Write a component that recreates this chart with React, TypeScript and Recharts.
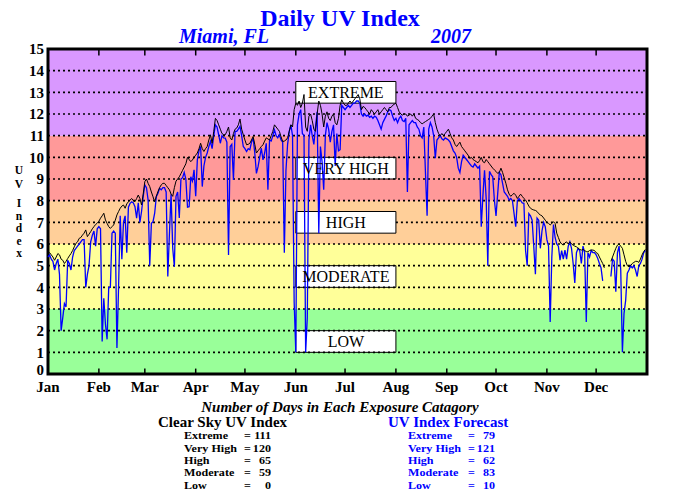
import React from "react";
import {
  ComposedChart,
  Line,
  XAxis,
  YAxis,
  ReferenceArea,
  ReferenceLine,
} from "recharts";

document.body.style.margin = "0";

const SERIF = "'Liberation Serif', 'DejaVu Serif', serif";

const MONTHS = ["Jan", "Feb", "Mar", "Apr", "May", "Jun", "Jul", "Aug", "Sep", "Oct", "Nov", "Dec"];
const MONTH_START = [0, 31, 59, 90, 120, 151, 181, 212, 243, 273, 304, 334];
const Y_TICKS = [0, 1, 2, 3, 4, 5, 6, 7, 8, 9, 10, 11, 12, 13, 14, 15];
const GRID_Y = [1, 2, 3, 4, 5, 6, 7, 8, 9, 10, 11, 12, 13, 14];

// clear sky UV index, one value per day of 2007
const clearSky: (number | null)[] = [
  // Jan
  5.56, 5.6, 5.5, 5.4, 5.25, 5.4, 5.56, 5.5, 5.3, 5.25, 5.1, 5.2, 5.33, 5.45, 5.56, 5.7,
  5.87, 6.03, 6.1, 6.26, 6.3, 6.41, 6.5, 6.65, 6.34, 6.45, 6.57, 6.7, 6.8, 6.9, 6.96,
  // Feb
  7.05, 7.19, 7.3, 7.42, 7.11, 6.95, 6.8, 6.72, 6.8, 6.88, 7.1, 7.34, 7.5, 7.65, 7.75,
  7.8, 7.65, 7.85, 7.95, 8.03, 8.1, 8.0, 7.95, 8.1, 8.26, 8.1, 7.8, 8.3,
  // Mar
  8.88, 9.0, 8.8, 8.65, 8.4, 8.18, 7.95, 8.2, 8.42, 8.6, 8.73, 8.8, 8.8, 8.7, 8.6, 8.5,
  8.3, 8.2, 8.6, 8.9, 9.0, 9.1, 9.25, 9.4, 9.55, 9.7, 10.0, 9.9, 9.8, 9.88, 10.0,
  // Apr
  10.1, 10.2, 10.4, 10.65, 10.4, 10.27, 10.4, 10.5, 10.8, 11.04, 10.65, 11.2, 11.8, 11.7,
  11.5, 11.3, 11.1, 11.05, 11.04, 11.2, 11.4, 10.9, 10.8, 11.1, 11.3, 11.35, 11.5, 11.77,
  11.3, 11.04,
  // May
  10.8, 10.58, 10.6, 10.65, 10.8, 10.96, 10.6, 10.2, 10.3, 10.4, 10.5, 10.58, 10.75, 10.9,
  10.85, 10.8, 11.0, 11.2, 11.5, 11.4, 11.3, 11.2, 10.95, 10.73, 10.75, 10.8, 10.9, 11.2,
  11.5, 11.4, 12.2,
  // Jun
  12.5, 12.4, 12.6, 12.3, 12.5, 12.9, 11.4, 11.2, 11.9, 12.0, 11.7, 11.3, 11.2, 12.0, 12.6,
  12.4, 12.0, 11.4, 11.9, 12.1, 11.8, 11.7, 11.9, 12.0, 11.6, 11.5, 11.8, 12.4, 12.66, 12.5,
  // Jul
  12.4, 12.4, 12.5, 12.6, 12.5, 12.6, 12.7, 12.8, 12.9, 12.7, 12.2, 12.35, 12.3, 12.2, 12.1,
  12.0, 12.2, 12.1, 12.0, 12.1, 12.2, 12.0, 12.1, 12.2, 12.3, 12.2, 12.1, 12.3, 12.3, 12.4,
  12.45,
  // Aug
  12.5, 12.3, 12.1, 12.0, 11.95, 12.0, 12.0, 11.9, 11.95, 12.0, 11.9, 12.0, 11.8, 11.75,
  11.7, 11.6, 11.55, 11.6, 11.65, 11.7, 11.75, 11.8, 11.9, 12.0, 11.6, 11.3, 11.1, 11.0,
  11.1, 11.0, 11.1,
  // Sep
  11.2, 11.3, 11.1, 10.9, 10.8, 10.6, 10.5, 10.6, 10.7, 10.5, 10.4, 10.3, 10.2, 10.1, 9.95,
  10.0, 9.9, 9.85, 9.8, 9.75, 9.85, 10.0, 9.8, 9.75, 9.9, 9.8, 9.7, 9.6, 9.5, 9.42,
  // Oct
  9.35, 9.26, 9.3, 9.5, 9.3, 9.05, 8.8, 8.5, 8.3, 8.2, 8.28, 8.34, 8.25, 8.1, 8.2, 8.3,
  8.2, 8.1, 8.03, 7.9, 7.75, 7.65, 7.6, 7.57, 7.55, 7.5, 7.4, 7.34, 7.3, 7.2, 7.1,
  // Nov
  7.0, 6.95, 6.88, 6.95, 7.03, 6.95, 6.5, 6.3, 6.1, 6.0, 5.95, 6.05, 6.1, 6.0, 6.1, 6.0,
  5.95, 5.9, 5.87, 5.8, 5.75, 5.72, 5.75, 5.7, 5.65, 5.64, 5.7, 5.72, 5.72, 5.7,
  // Dec
  5.6, 5.56, 5.4, 5.25, 5.1, 4.9, null, null, null, 5.2, 5.4, 5.6, 5.8, 5.95, 6.0, 5.9,
  5.8, 5.5, 5.2, 5.0, 4.95, 5.0, 5.1, 5.15, 5.2, 5.2, 5.15, 5.3, 5.5, 5.65, 5.75,
];

// forecast UV index, one value per day
const forecast: (number | null)[] = [
  // Jan
  5.4, 5.5, 5.3, 5.2, 4.8, 5.1, 5.3, 4.6, 2.0, 2.6, 3.25, 3.1, 5.25, 5.1, 4.8, 5.4, 5.7,
  5.8, 5.9, 6.0, 6.1, 6.2, 6.2, 4.0, 4.6, 5.0, 6.1, 6.4, 6.6, 5.9, 6.7,
  // Feb
  6.8, 6.7, 1.5, 3.5, 2.3, 1.6, 4.0, 4.0, 6.5, 6.6, 6.5, 1.2, 4.0, 7.3, 5.3, 7.0, 7.3,
  5.6, 7.7, 7.88, 7.95, 7.9, 7.72, 7.19, 7.9, 7.0, 7.5, 8.18,
  // Mar
  8.73, 8.6, 8.03, 5.0, 6.96, 7.03, 7.42, 8.18, 8.34, 8.57, 8.5, 8.6, 8.6, 8.4, 4.5, 6.5,
  8.3, 5.8, 4.95, 8.2, 8.4, 7.2, 9.0, 9.06, 9.3, 9.0, 7.7, 7.72, 9.1, 8.9, 9.42,
  // Apr
  8.2, 9.89, 10.3, 10.5, 8.65, 9.6, 10.0, 10.2, 10.5, 10.73, 10.4, 11.0, 11.5, 11.4, 11.04,
  10.65, 11.0, 10.9, 10.89, 10.7, 5.49, 10.5, 10.6, 8.96, 11.2, 11.2, 11.3, 11.43, 11.0, 10.5,
  // May
  10.4, 10.27, 10.4, 10.35, 10.7, 10.89, 10.2, 9.26, 9.57, 10.0, 10.42, 9.88, 10.2, 10.65,
  8.5, 10.8, 10.75, 11.0, 11.27, 11.0, 10.9, 11.04, 10.8, 10.7, 5.6, 9.4, 10.6, 11.2, 11.5,
  11.0, 3.3,
  // Jun
  1.0, 11.5, 12.0, 12.2, 11.1, 11.0, 1.0, 2.6, 10.8, 11.5, 11.0, 10.6, 11.4, 12.1, 6.5,
  10.5, 9.8, 8.5, 11.0, 11.6, 11.3, 10.7, 11.2, 11.5, 9.6, 11.1, 10.3, 10.35, 12.4, 12.3,
  // Jul
  12.2, 12.3, 12.4, 12.3, 12.4, 12.5, 12.5, 12.6, 12.6, 12.5, 12.0, 11.9, 12.0, 11.9, 11.95,
  11.85, 11.9, 11.8, 11.9, 11.85, 11.7, 11.5, 11.3, 11.6, 11.75, 11.9, 12.1, 12.2, 12.15,
  11.9, 11.7,
  // Aug
  11.8, 11.6, 11.8, 11.9, 11.7, 11.65, 11.8, 8.4, 11.5, 11.6, 11.7, 11.6, 11.6, 11.4, 11.3,
  11.0, 10.9, 11.4, 9.3, 7.3, 11.3, 11.6, 11.4, 11.0, 9.96, 10.8, 10.9, 11.0, 10.85, 10.8,
  10.9,
  // Sep
  10.85, 10.8, 10.7, 10.5, 10.3, 10.2, 10.0, 9.5, 9.3, 9.8, 10.1, 10.0, 9.9, 9.8, 9.7, 9.6,
  9.55, 9.7, 9.6, 9.5, 9.6, 6.8, 8.2, 9.4, 8.1, 5.0, 9.35, 9.2, 9.1, 8.03,
  // Oct
  7.3, 8.3, 9.3, 9.2, 8.8, 8.4, 8.3, 8.2, 8.03, 8.1, 8.0, 7.4, 6.8, 8.0, 8.1, 8.0, 7.9,
  7.88, 5.7, 5.0, 7.4, 7.3, 7.1, 5.9, 4.6, 7.2, 7.1, 5.8, 6.6, 7.0, 6.8,
  // Nov
  6.2, 5.9, 2.4, 5.4, 6.9, 6.3, 6.0, 5.9, 5.25, 5.7, 5.3, 5.72, 5.3, 5.9, 6.1, 5.8, 5.1,
  4.2, 5.6, 5.8, 5.7, 5.1, 5.9, 5.6, 2.4, 5.6, 5.4, 5.7, 5.6, 5.6,
  // Dec
  5.5, 5.33, 5.1, 4.9, 4.3, null, null, null, null, 4.5, 5.3, 5.2, 3.8, 5.6, 5.9, 4.8, 1.0,
  2.8, 3.4, 4.65, 4.8, 5.0, 4.9, 5.0, 4.8, 4.5, 5.0, 5.1, 5.3, 5.6, 5.7,
];

const BANDS = [
  { from: 0, to: 3, color: "#99FF99" },
  { from: 3, to: 6, color: "#FFFF99" },
  { from: 6, to: 8, color: "#FFCF99" },
  { from: 8, to: 11, color: "#FF9999" },
  { from: 11, to: 15, color: "#D998FF" },
];

// labelled boxes, from Jun 1 to Aug 1
const BOX_FROM = 151;
const BOX_TO = 212;
const CATEGORIES = [
  { name: "EXTREME", lo: 12.5, hi: 13.5 },
  { name: "VERY HIGH", lo: 9, hi: 10 },
  { name: "HIGH", lo: 6.5, hi: 7.5 },
  { name: "MODERATE", lo: 4, hi: 5 },
  { name: "LOW", lo: 1, hi: 2 },
];

const CLEAR_COUNTS = [
  ["Extreme", "111"],
  ["Very High", "120"],
  ["High", "65"],
  ["Moderate", "59"],
  ["Low", "0"],
];
const FORECAST_COUNTS = [
  ["Extreme", "79"],
  ["Very High", "121"],
  ["High", "62"],
  ["Moderate", "83"],
  ["Low", "10"],
];

const data = clearSky.map((v, i) => ({ day: i, clear: v, forecast: forecast[i] }));

// dotted grid lines, broken where a white label box sits on them
const gridSegments = GRID_Y.flatMap((y) => {
  const hidden = CATEGORIES.some((c) => y > c.lo && y < c.hi);
  if (!hidden) return [{ y, from: 0, to: 365 }];
  return [
    { y, from: 0, to: BOX_FROM },
    { y, from: BOX_TO, to: 365 },
  ];
});

const ROW_Y = [439.5, 451.8, 464, 476.3, 488.6];
const Y_LABEL = [
  { ch: "U", y: 174 },
  { ch: "V", y: 188 },
  { ch: "I", y: 207 },
  { ch: "n", y: 219.5 },
  { ch: "d", y: 232 },
  { ch: "e", y: 244.5 },
  { ch: "x", y: 257 },
];

const tickFont = { fontSize: 15, fontWeight: "bold", fontFamily: SERIF };

// y tick label; the "0" sits a little higher, clear of the month names
function YTick(props: any) {
  const { x, y, payload } = props;
  const lift = payload.value === 0 ? -4 : 0;
  return (
    <text x={x} y={y + lift} dy="0.355em" textAnchor="end" fill="#000" {...tickFont}>
      {payload.value}
    </text>
  );
}

// the rows are packed tight, so a short font is stretched sideways
const SX = 1.14;
function CountTable({ rows, x, color }: { rows: string[][]; x: number; color: string }) {
  return (
    <g transform={`translate(${x},0) scale(${SX},1)`} fontSize={10.6} fontWeight="bold" fill={color}>
      {rows.map(([name, n], i) => (
        <g key={name}>
          <text x={0} y={ROW_Y[i]}>{name}</text>
          <text x={60 / SX} y={ROW_Y[i]}>=</text>
          <text x={87 / SX} y={ROW_Y[i]} textAnchor="end">{n}</text>
        </g>
      ))}
    </g>
  );
}

export default function App() {
  return (
    <div style={{ position: "relative", width: 680, height: 500, background: "#fff" }}>
      <ComposedChart
        width={680}
        height={500}
        data={data}
        margin={{ top: 49, right: 33, bottom: 106, left: 0 }}
      >
        <XAxis
          dataKey="day"
          type="number"
          domain={[0, 365]}
          ticks={MONTH_START}
          interval={0}
          tickFormatter={(v: number) => MONTHS[MONTH_START.indexOf(v)]}
          axisLine={false}
          tickLine={false}
          tickSize={0}
          tickMargin={7}
          height={20}
          tick={{ fill: "#000", ...tickFont }}
        />
        <YAxis
          type="number"
          domain={[0, 15]}
          ticks={Y_TICKS}
          interval={0}
          axisLine={false}
          tickLine={false}
          tickSize={0}
          tickMargin={4}
          width={48}
          tick={<YTick />}
        />

        {BANDS.map((b) => (
          <ReferenceArea
            key={b.from}
            x1={0}
            x2={365}
            y1={b.from}
            y2={b.to}
            fill={b.color}
            fillOpacity={1}
            stroke="none"
          />
        ))}

        {gridSegments.map((g) => (
          <ReferenceLine
            key={g.y + "-" + g.from}
            segment={[{ x: g.from, y: g.y }, { x: g.to, y: g.y }]}
            stroke="#000"
            strokeWidth={1.6}
            strokeDasharray="2 3"
          />
        ))}

        {CATEGORIES.map((c) => (
          <ReferenceArea
            key={c.name}
            x1={BOX_FROM}
            x2={BOX_TO}
            y1={c.lo}
            y2={c.hi}
            fill="#fff"
            fillOpacity={1}
            stroke="#000"
            strokeWidth={1}
            label={{ value: c.name, position: "center", fill: "#000", fontSize: 16, fontFamily: SERIF }}
          />
        ))}

        <Line
          type="linear"
          dataKey="forecast"
          stroke="#0000FF"
          strokeWidth={1.3}
          dot={false}
          connectNulls={false}
          isAnimationActive={false}
        />
        <Line
          type="linear"
          dataKey="clear"
          stroke="#000"
          strokeWidth={1}
          dot={false}
          connectNulls={false}
          isAnimationActive={false}
        />

        {MONTH_START.slice(1).map((m) => (
          <ReferenceLine
            key={"t" + m}
            segment={[{ x: m, y: 15 }, { x: m, y: 14.7 }]}
            stroke="#000"
            strokeWidth={1.5}
          />
        ))}
        {MONTH_START.slice(1).map((m) => (
          <ReferenceLine
            key={"b" + m}
            segment={[{ x: m, y: 0 }, { x: m, y: 0.25 }]}
            stroke="#000"
            strokeWidth={1.5}
          />
        ))}
        <ReferenceArea x1={0} x2={365} y1={0} y2={15} fill="none" stroke="#000" strokeWidth={3} />
      </ComposedChart>

      <svg
        width={680}
        height={500}
        style={{ position: "absolute", left: 0, top: 0, pointerEvents: "none" }}
        fontFamily={SERIF}
      >
        <text x={340} y={26} textAnchor="middle" fontSize={24} fontWeight="bold" fill="#0000FF">
          Daily UV Index
        </text>
        <text x={179} y={43} fontSize={20} fontWeight="bold" fontStyle="italic" fill="#0000FF">
          Miami, FL
        </text>
        <text x={431} y={43} fontSize={20} fontWeight="bold" fontStyle="italic" fill="#0000FF">
          2007
        </text>

        {Y_LABEL.map((l) => (
          <text key={l.ch} x={19} y={l.y} textAnchor="middle" fontSize={11.5} fontWeight="bold" fill="#000">
            {l.ch}
          </text>
        ))}

        <text x={340} y={412} textAnchor="middle" fontSize={15} fontWeight="bold" fontStyle="italic" fill="#000">
          Number of Days in Each Exposure Catagory
        </text>
        <text x={158} y={427} fontSize={15} fontWeight="bold" fill="#000">
          Clear Sky UV Index
        </text>
        <text x={388} y={427} fontSize={15} fontWeight="bold" fill="#0000FF">
          UV Index Forecast
        </text>

        <CountTable rows={CLEAR_COUNTS} x={184} color="#000" />
        <CountTable rows={FORECAST_COUNTS} x={408} color="#0000FF" />
      </svg>
    </div>
  );
}
